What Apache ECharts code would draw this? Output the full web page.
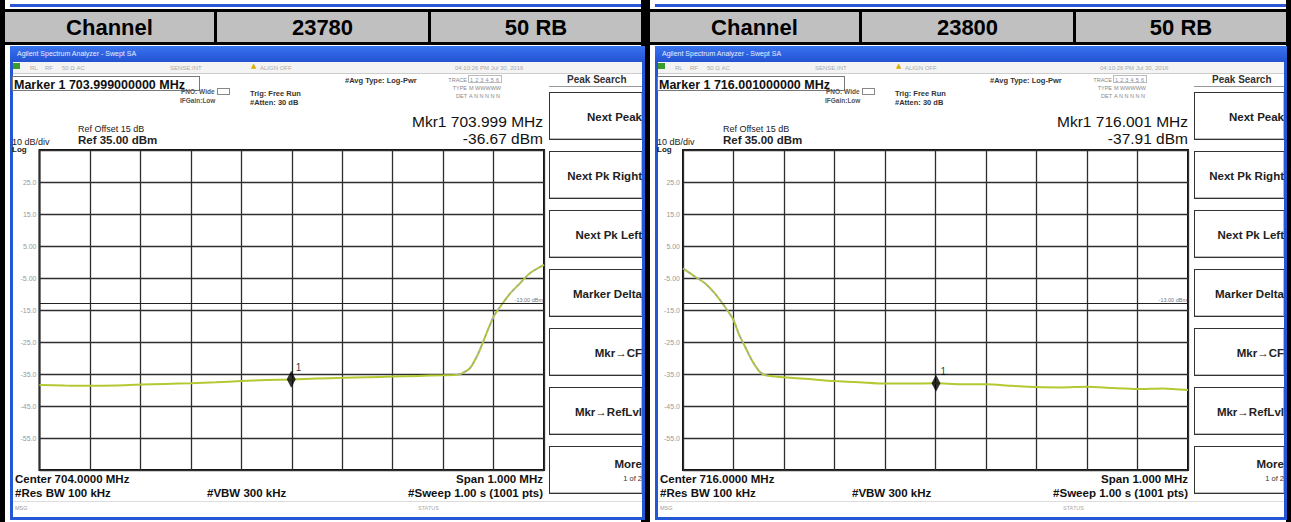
<!DOCTYPE html>
<html><head><meta charset="utf-8">
<script src="https://cdn.jsdelivr.net/npm/echarts/dist/echarts.min.js"></script>
<style>
html,body{margin:0;padding:0}
body{width:1291px;height:522px;overflow:hidden;background:#000;position:relative;font-family:"Liberation Sans",Arial,sans-serif}
.a{position:absolute;white-space:nowrap;line-height:1}
#chart{position:absolute;left:0;top:0;width:1291px;height:522px;z-index:10}
</style></head><body>
<div id="chart"></div>
<script>
// ---------- data ----------
const headerChannel = ['Channel', 'Channel'];
const headerNumber = ['23780', '23800'];
const headerRB = ['50 RB', '50 RB'];
const markerLine = ['Marker 1 703.999000000 MHz', 'Marker 1 716.001000000 MHz'];
const mkrFreqText = ['Mkr1 703.999 MHz', 'Mkr1 716.001 MHz'];
const mkrLevelText = ['-36.67 dBm', '-37.91 dBm'];
const centerText = ['Center 704.0000 MHz', 'Center 716.0000 MHz'];
const softkeys = ['Next Peak', 'Next Pk Right', 'Next Pk Left', 'Marker Delta', 'Mkr\u2192CF', 'Mkr\u2192RefLvl', 'More'];
const yTicks = [25, 15, 5, -5, -15, -25, -35, -45, -55];
const yTickText = ['25.0', '15.0', '5.00', '-5.00', '-15.0', '-25.0', '-35.0', '-45.0', '-55.0'];

// left plot (channel 23780), MHz / dBm
const freqA = [703.500, 703.550, 703.600, 703.650, 703.700, 703.750, 703.800, 703.850, 703.900, 703.950, 704.000, 704.050, 704.100, 704.150, 704.200, 704.250, 704.300, 704.330, 704.353, 704.370, 704.386, 704.400, 704.413, 704.433, 704.452, 704.472, 704.500];
const levelA = [-38.4, -38.6, -38.7, -38.6, -38.3, -38.1, -37.9, -37.6, -37.2, -36.9, -36.7, -36.4, -36.2, -36.0, -35.8, -35.6, -35.4, -35.2, -33.2, -28.5, -22.3, -17.1, -14.0, -9.8, -6.7, -3.5, -0.9];
const freqA2 = [704.330, 704.353, 704.370, 704.386, 704.400, 704.413, 704.433, 704.452, 704.472, 704.500];
const levelA2 = [-35.2, -33.2, -28.5, -22.3, -17.1, -14.0, -9.8, -6.7, -3.5, -0.9];
const markerA = [703.999, -36.67];

// right plot (channel 23800)
const freqB = [715.500, 715.524, 715.544, 715.563, 715.583, 715.600, 715.610, 715.623, 715.636, 715.652, 715.666, 715.700, 715.750, 715.800, 715.850, 715.900, 715.950, 716.000, 716.050, 716.100, 716.150, 716.200, 716.250, 716.300, 716.350, 716.400, 716.450, 716.500];
const levelB = [-2.0, -4.6, -6.7, -9.8, -14.0, -18.1, -22.3, -26.5, -30.6, -34.3, -35.5, -36.0, -36.6, -37.2, -37.6, -38.0, -38.0, -37.9, -38.2, -38.2, -38.7, -39.1, -39.2, -39.0, -39.4, -39.7, -39.5, -40.0];
const freqB2 = [715.500, 715.524, 715.544, 715.563, 715.583, 715.600, 715.610, 715.623, 715.636, 715.652, 715.666];
const levelB2 = [-2.0, -4.6, -6.7, -9.8, -14.0, -18.1, -22.3, -26.5, -30.6, -34.3, -35.5];
const markerB = [716.001, -37.91];
const displayLine = -13;

// ---------- html decoration ----------
function box(x, y, w, h, css) {
  const d = document.createElement('div');
  d.className = 'a';
  d.style.cssText += `left:${x}px;top:${y}px;width:${w}px;height:${h}px;` + (css || '');
  document.body.appendChild(d); return d;
}
function txt(x, y, t, css) {
  const d = document.createElement('div');
  d.className = 'a'; d.textContent = t;
  d.style.cssText += `left:${x}px;top:${y}px;` + (css || '');
  document.body.appendChild(d); return d;
}
function txtR(xr, y, t, css) {
  const d = document.createElement('div');
  d.className = 'a'; d.textContent = t;
  d.style.cssText += `right:${1291 - xr}px;top:${y}px;` + (css || '');
  document.body.appendChild(d); return d;
}

function panel(i, dx, winW) {
  // top strip (bottom of previous row)
  box(5 + dx, 0, 636, 9, 'background:#fff;');
  box(10 + dx, 4, 631, 3, 'background:#2a58d4;');
  // header cells
  const cells = [[5, 209, headerChannel[i]], [217, 211, headerNumber[i]], [431, 210, headerRB[i]]];
  cells.forEach(c => {
    const d = box(c[0] + dx, 12, c[1], 30, 'background:#c0c0c0;font:bold 22px "Liberation Sans",Arial,sans-serif;color:#000;text-align:center;line-height:31px;');
    d.textContent = c[2];
  });
  // screenshot cell
  box(5 + dx, 45, 636, 477, 'background:#fff;');
  // window
  box(10 + dx, 46, winW, 474, 'box-sizing:border-box;border:3px solid #2457d6;border-top:none;background:#fff;');
  box(10 + dx, 46, winW, 16, 'background:linear-gradient(#3a74ee,#2b5fe0 60%,#2453d0);');
  txt(17 + dx, 50, 'Agilent Spectrum Analyzer - Swept SA', 'font:7px "Liberation Sans",Arial;color:#e8eeff;');
  // status strip
  box(13 + dx, 62, winW - 6, 11, 'background:#f4f4f4;border-bottom:1px solid #ccc;');
  box(13 + dx, 63, 7, 6, 'background:#3c9c2c;');
  const faint = 'font:6px "Liberation Sans",Arial;color:#aaa;';
  txt(30 + dx, 65, 'RL', faint); txt(45 + dx, 65, 'RF', faint); txt(62 + dx, 65, '50 \u03A9  AC', faint);
  txt(170 + dx, 65, 'SENSE:INT', faint);
  txt(251 + dx, 62, '\u25B2', 'font:7px "DejaVu Sans";color:#d8b000;');
  txt(260 + dx, 65, 'ALIGN OFF', faint);
  txt(455 + dx, 65, '04:10:26 PM Jul 30, 2016', faint);
  // marker box
  box(12 + dx, 76, 188, 15, 'box-sizing:border-box;border:1px solid #777;background:#fff;');
  txt(14 + dx, 78, markerLine[i], 'font:bold 12.5px "Liberation Sans",Arial;color:#111;');
  const sm = 'font:bold 6.5px "Liberation Sans",Arial;color:#555;';
  txt(181 + dx, 88, 'PNO: Wide', sm); txt(180 + dx, 97, 'IFGain:Low', sm);
  box(217 + dx, 88, 13, 7, 'box-sizing:border-box;border:1px solid #888;');
  const md = 'font:bold 7.5px "Liberation Sans",Arial;color:#333;';
  txt(250 + dx, 89, 'Trig: Free Run', md); txt(250 + dx, 98, '#Atten: 30 dB', md);
  txt(345 + dx, 76, '#Avg Type: Log-Pwr', md);
  const tr = 'font:5.5px "Liberation Sans",Arial;color:#888;';
  txtR(467 + dx, 77, 'TRACE', tr); txtR(467 + dx, 85, 'TYPE', tr); txtR(467 + dx, 93, 'DET', tr);
  box(468 + dx, 75, 34, 8, 'box-sizing:border-box;border:1px solid #bbb;');
  txt(470 + dx, 77, '1 2 3 4 5 6', 'font:5.5px "Liberation Sans",Arial;color:#8a8aa8;letter-spacing:0.3px;');
  txt(469 + dx, 85, 'M WWWWW', tr); txt(469 + dx, 93, 'A N N N N N', tr);
  // marker readout
  const big = 'font:15.5px "Liberation Sans",Arial;color:#111;';
  txtR(543 + dx, 113, mkrFreqText[i], big);
  txtR(543 + dx, 130, mkrLevelText[i], big);
  txt(78 + dx, 124, 'Ref Offset 15 dB', 'font:9px "Liberation Sans",Arial;color:#222;');
  txt(78 + dx, 134, 'Ref 35.00 dBm', 'font:bold 11.5px "Liberation Sans",Arial;color:#222;');
  txt(12 + dx, 137, '10 dB/div', 'font:9px "Liberation Sans",Arial;color:#222;');
  txt(12 + dx, 145, 'Log', 'font:bold 8px "Liberation Sans",Arial;color:#222;');
  // bottom annotations
  const bt = 'font:bold 11.5px "Liberation Sans",Arial;color:#111;';
  txt(15 + dx, 473, centerText[i], bt);
  txt(15 + dx, 487, '#Res BW 100 kHz', bt);
  txt(207 + dx, 487, '#VBW 300 kHz', bt);
  txtR(543 + dx, 473, 'Span 1.000 MHz', bt);
  txtR(543 + dx, 487, '#Sweep  1.00 s (1001 pts)', bt);
  box(13 + dx, 501, winW - 6, 1, 'background:#ddd;');
  txt(15 + dx, 505, 'MSG', 'font:5.5px "Liberation Sans",Arial;color:#999;');
  txt(418 + dx, 505, 'STATUS', 'font:5.5px "Liberation Sans",Arial;color:#aaa;');
  // softkeys
  const kx = 549 + dx, kw = 10 + winW - 3 - 549;
  box(kx, 67, kw, 20, 'box-sizing:border-box;border-bottom:1px solid #999;');
  txt(567 + dx, 74, 'Peak Search', 'font:bold 10px "Liberation Sans",Arial;color:#333;');
  const kr = kx + kw;
  softkeys.forEach((s, k) => {
    const top = 92 + k * 59;
    box(kx, top, kw, 48, 'box-sizing:border-box;border:1.5px solid #333;border-right:none;box-shadow:inset -1px -1px 0 #bbb;background:#fff;');
    if (s === 'More') {
      txtR(kr, top + 12, s, 'font:bold 11.5px "Liberation Sans",Arial;color:#222;');
      txtR(kr, top + 28, '1 of 2', 'font:7.5px "Liberation Sans",Arial;color:#333;');
    } else {
      txtR(kr, top + 19, s, 'font:bold 11.5px "Liberation Sans",Arial;color:#222;');
    }
  });
}
panel(0, 0, 635);
panel(1, 645, 632);

// ---------- chart ----------
const chart = echarts.init(document.getElementById('chart'), null, { renderer: 'svg', width: 1291, height: 522 });
const zip = (xs, ys) => xs.map((x, k) => [x, ys[k]]);
const gridStyle = { show: true, borderColor: '#111', borderWidth: 2, backgroundColor: 'rgba(0,0,0,0)' };
const xCommon = {
  type: 'value', axisLine: { show: false }, axisTick: { show: false }, axisLabel: { show: false },
  splitLine: { show: true, lineStyle: { color: '#2e2e2e', width: 1.3 } }
};
const yCommon = {
  type: 'value', min: -65, max: 35, interval: 10,
  axisLine: { show: false }, axisTick: { show: false },
  axisLabel: {
    show: true, fontSize: 7, color: '#999', margin: 3, fontFamily: 'Liberation Sans',
    formatter: v => { const k = yTicks.indexOf(Math.round(v)); return k >= 0 ? yTickText[k] : ''; }
  },
  splitLine: { show: true, lineStyle: { color: '#2e2e2e', width: 1.3 } }
};
function traceSeries(idx, xs, ys, xs2, ys2, mk) {
  return [
    {
      type: 'line', xAxisIndex: idx, yAxisIndex: idx, data: zip(xs, ys), showSymbol: false, smooth: 0.25,
      lineStyle: { color: '#b4c832', width: 2 }, z: 3,
      markLine: {
        silent: true, symbol: 'none', animation: false,
        data: [{ yAxis: displayLine }],
        lineStyle: { color: '#222', width: 1.2, type: 'solid' },
        label: { show: true, formatter: '-13.00 dBm', position: 'insideEndTop', fontSize: 5.5, color: '#777', distance: 1 }
      }
    },
    {
      type: 'line', xAxisIndex: idx, yAxisIndex: idx, data: zip(xs2, ys2), showSymbol: false, smooth: 0.25,
      lineStyle: { color: '#a8a8a8', width: 1.4, type: [3, 3] }, z: 4
    },
    {
      type: 'scatter', xAxisIndex: idx, yAxisIndex: idx, data: [mk], symbol: 'diamond', symbolSize: [9, 17],
      itemStyle: { color: '#000' }, z: 6,
      label: { show: true, formatter: '1', position: [9, -8], fontSize: 10, color: '#000' }
    }
  ];
}
chart.setOption({
  animation: false,
  grid: [
    Object.assign({ left: 39.5, top: 150, width: 504.5, height: 320 }, gridStyle),
    Object.assign({ left: 683, top: 150, width: 505, height: 320 }, gridStyle)
  ],
  xAxis: [
    Object.assign({ gridIndex: 0, min: 703.5, max: 704.5, interval: 0.1 }, xCommon),
    Object.assign({ gridIndex: 1, min: 715.5, max: 716.5, interval: 0.1 }, xCommon)
  ],
  yAxis: [
    Object.assign({ gridIndex: 0 }, yCommon),
    Object.assign({ gridIndex: 1 }, yCommon)
  ],
  series: traceSeries(0, freqA, levelA, freqA2, levelA2, markerA)
    .concat(traceSeries(1, freqB, levelB, freqB2, levelB2, markerB))
});
</script>
</body></html>
